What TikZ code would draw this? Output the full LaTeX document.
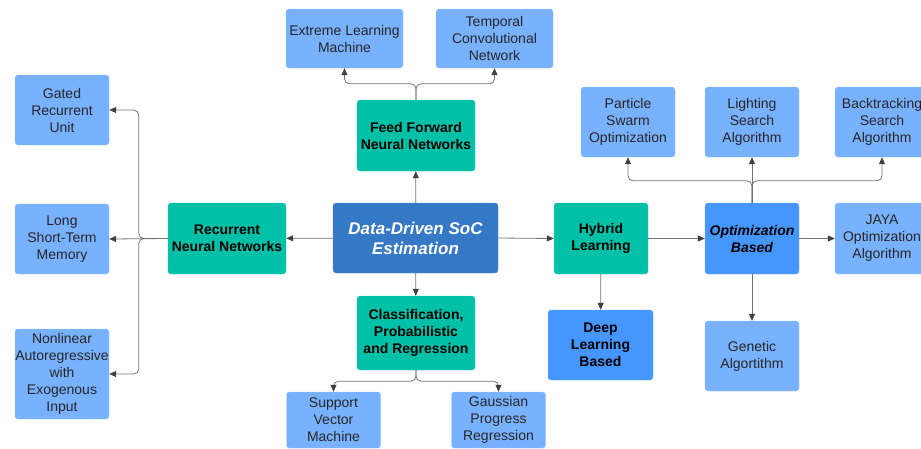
\documentclass[tikz,border=0pt]{standalone}
\usepackage{fontspec}
\setmainfont{Liberation Sans}
\usetikzlibrary{arrows.meta}
\definecolor{leafblue}{RGB}{120,177,255}
\definecolor{midblue}{RGB}{69,151,255}
\definecolor{rootblue}{RGB}{52,120,198}
\definecolor{teal}{RGB}{0,193,167}
\begin{document}
\begin{tikzpicture}[x=1pt, y=-1pt,
		box/.style={rectangle, rounded corners=3pt, align=center, inner sep=0pt,
			font=\fontsize{14}{17}\selectfont},
		leaf/.style={box, fill=leafblue, draw=leafblue!75!white, text=black!85,
			minimum width=94pt, minimum height=70pt},
		family/.style={box, fill=teal, draw=teal!80!white, font=\fontsize{14}{17}\selectfont\bfseries,
			minimum width=118pt, minimum height=71pt},
		method/.style={box, fill=midblue, draw=midblue!80!white, font=\fontsize{14}{17}\selectfont\bfseries,
			minimum width=94pt, minimum height=71pt},
		link/.style={draw=black!55, line width=0.8pt, rounded corners=5pt,
			-{Triangle[length=7pt, width=6pt, color=black!75]}}]
				\useasboundingbox (0,0) rectangle (921,448);
				% centre
				\node[box, fill=rootblue, draw=rootblue!80!white, text=white,
					font=\fontsize{17}{20}\selectfont\bfseries\itshape,
					minimum width=165pt, minimum height=70pt] (dds) at (415.5,238) {Data-Driven SoC\\Estimation};
				% families
				\node[family] (ffnn) at (416,135.5) {Feed Forward\\Neural Networks};
				\node[family] (rnn) at (227,238.5) {Recurrent\\Neural Networks};
				\node[family, minimum height=74pt] (cpr) at (416,333) {Classification,\\Probabilistic\\and Regression};
				\node[family, minimum width=94pt] (hyb) at (601,238.5) {Hybrid\\Learning};
				\node[method, minimum width=105pt, minimum height=70pt] (deep) at (600.5,345) {Deep\\Learning\\Based};
				\node[method, font=\fontsize{14}{17}\selectfont\bfseries\itshape] (opt) at (752,238.5) {Optimization\\Based};
				% leaves
				\node[leaf, minimum width=117pt, minimum height=59pt] (elm) at (344.5,38.5) {Extreme Learning\\Machine};
				\node[leaf, minimum width=117pt, minimum height=59pt] (tcn) at (494.5,38.5) {Temporal\\Convolutional\\Network};
				\node[leaf] (gru) at (62,110) {Gated\\Recurrent\\Unit};
				\node[leaf] (lstm) at (62,239) {Long\\Short-Term\\Memory};
				\node[leaf, minimum height=90pt] (narx) at (62,374) {Nonlinear\\Autoregressive\\with\\Exogenous\\Input};
				\node[leaf, minimum height=56pt] (svm) at (333.5,420) {Support\\Vector\\Machine};
				\node[leaf, minimum height=56pt] (gpr) at (498.5,420) {Gaussian\\Progress\\Regression};
				\node[leaf] (pso) at (628,122) {Particle\\Swarm\\Optimization};
				\node[leaf] (lsa) at (752,122) {Lighting\\Search\\Algorithm};
				\node[leaf] (bsa) at (882,122) {Backtracking\\Search\\Algorithm};
				\node[leaf, minimum height=71pt] (jaya) at (882,238.5) {JAYA\\Optimization\\Algorithm};
				\node[leaf] (gen) at (752,356) {Genetic\\Algortithm};
				% connectors
				\draw[link] (dds) -- (ffnn);
				\draw[link] (dds) -- (rnn);
				\draw[link] (dds) -- (cpr);
				\draw[link] (dds.east) -- (hyb.west);
				\draw[link] (hyb.east) -- (opt.west);
				\draw[link] (opt.east) -- (jaya.west);
				\draw[link] (hyb) -- (deep);
				\draw[link] (opt) -- (gen);
				\draw[link] (ffnn.north) -- ++(0,-16) -| (elm.south);
				\draw[link] (ffnn.north) -- ++(0,-16) -| (tcn.south);
				\draw[link] (rnn.west) -- (lstm.east);
				\draw[link] (rnn.west) -- ++(-29,0) |- (gru.east);
				\draw[link] (rnn.west) -- ++(-29,0) |- (narx.east);
				\draw[link] (cpr.south) -- ++(0,11) -| (svm.north);
				\draw[link] (cpr.south) -- ++(0,11) -| (gpr.north);
				\draw[link] (opt) -- (lsa);
				\draw[link] (opt.north) -- ++(0,-22) -| (pso.south);
				\draw[link] (opt.north) -- ++(0,-22) -| (bsa.south);
			\end{tikzpicture}
\end{document}
